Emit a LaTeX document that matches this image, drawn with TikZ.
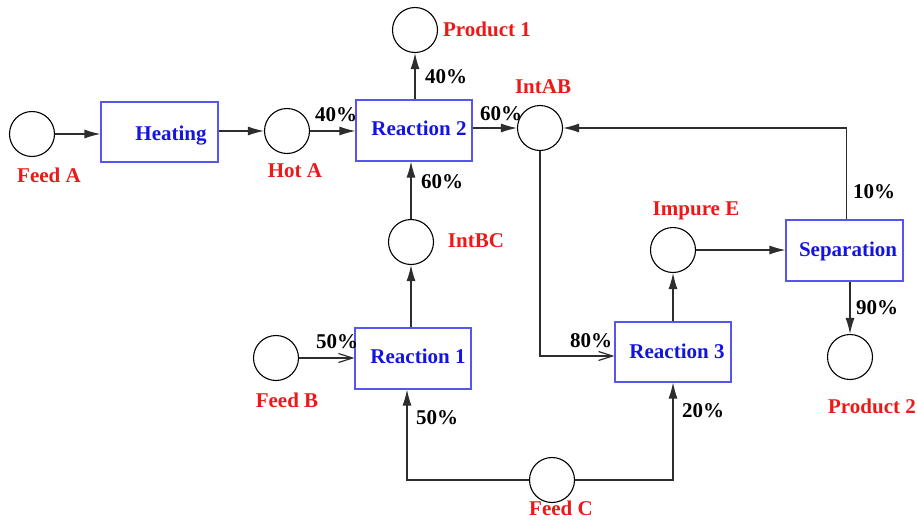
\documentclass[tikz,border=0pt]{standalone}
\usepackage{fontspec}
\setmainfont{Liberation Serif}
\usetikzlibrary{arrows.meta}
\definecolor{lblred}{RGB}{235,25,25}
\definecolor{txtblue}{RGB}{20,20,225}
\definecolor{boxblue}{RGB}{85,85,240}
\definecolor{linegray}{RGB}{45,45,45}
\begin{document}
\begin{tikzpicture}[x=1pt,y=-1pt,
  every node/.style={font=\fontsize{21}{24}\selectfont\bfseries},
  circ/.style={circle,draw=black,line width=1.1pt,minimum size=45pt,inner sep=0},
  blk/.style={draw=boxblue,line width=1.1pt,inner sep=0},
  lbl/.style={text=lblred,anchor=base,inner sep=0},
  btxt/.style={text=txtblue,anchor=base,inner sep=0},
  pct/.style={text=black,anchor=base,inner sep=0},
  flow/.style={draw=linegray,line width=1.2pt,-{Latex[length=16pt,width=9pt]}},
  oflow/.style={draw=linegray,line width=1.2pt,-{Straight Barb[length=14pt,width=9pt]}}]
\useasboundingbox (0,0) rectangle (917,520);
% circles
\node[circ] (feedA) at (32,134) {};
\node[circ] (hotA) at (287,131) {};
\node[circ] (p1) at (415,30) {};
\node[circ] (intAB) at (540,128) {};
\node[circ] (intBC) at (411,242) {};
\node[circ] (feedB) at (276,358) {};
\node[circ] (feedC) at (552,480) {};
\node[circ] (impE) at (673,250) {};
\node[circ] (p2) at (850,357) {};
% boxes
\node[blk,minimum width=117pt,minimum height=60pt] (heat) at (159.5,132) {};
\node[blk,minimum width=116pt,minimum height=61pt] (r2) at (414,130.5) {};
\node[blk,minimum width=116pt,minimum height=61pt] (r1) at (413,358.5) {};
\node[blk,minimum width=116pt,minimum height=60pt] (r3) at (673,352) {};
\node[blk,minimum width=117pt,minimum height=61pt] (sep) at (844.5,250.5) {};
% box texts
\node[btxt] (heatT) at (171,140) {Heating};
\node[btxt] (r2T) at (419,135) {Reaction 2};
\node[btxt] (r1T) at (418,363) {Reaction 1};
\node[btxt] (r3T) at (677,358) {Reaction 3};
\node[btxt] (sepT) at (848,256) {Separation};
% labels
\node[lbl] (feedAl) at (49,182) {Feed A};
\node[lbl] (hotAl) at (295,177) {Hot A};
\node[lbl] (p1l) at (487,36) {Product 1};
\node[lbl] (intABl) at (543,93) {IntAB};
\node[lbl] (intBCl) at (476,247) {IntBC};
\node[lbl] (impEl) at (696,215) {Impure E};
\node[lbl] (feedBl) at (287,407) {Feed B};
\node[lbl] (feedCl) at (561,515) {Feed C};
\node[lbl] (p2l) at (872,413) {Product 2};
% percentages
\node[pct] (pc1) at (336,121) {40\%};
\node[pct] (pc2) at (446,83) {40\%};
\node[pct] (pc3) at (501,120) {60\%};
\node[pct] (pc4) at (442,188) {60\%};
\node[pct] (pc5) at (874,198) {10\%};
\node[pct] (pc6) at (877,314) {90\%};
\node[pct] (pc7) at (337,348) {50\%};
\node[pct] (pc8) at (437,424) {50\%};
\node[pct] (pc9) at (591,347) {80\%};
\node[pct] (pc10) at (703,417) {20\%};
% connectors
\draw[flow] (feedA.east) -- (feedA.east -| heat.west);
\draw[flow] (heat.east |- hotA) -- (hotA.west);
\draw[flow] (hotA.east) -- (hotA.east -| r2.west);
\draw[flow] (p1.south |- r2.north) -- (p1.south);
\draw[flow] (r2.east |- intAB) -- (intAB.west);
\draw[flow] (intBC.north) -- (intBC.north |- r2.south);
\draw[flow] (r1.north -| intBC) -- (intBC.south);
\draw[oflow] (feedB.east) -- (feedB.east -| r1.west);
\draw[flow] (feedC.west) -| ([xshift=-6pt]r1.south);
\draw[flow] (feedC.east) -| (r3.south);
\draw[oflow] (intAB.south) |- ([yshift=-4pt]r3.west);
\draw[flow] (r3.north) -- (impE.south);
\draw[flow] (impE.east) -- (impE.east -| sep.west);
\draw[flow] ([xshift=2pt]sep.north) |- (intAB.east);
\draw[flow] (p2.north |- sep.south) -- (p2.north);
\end{tikzpicture}
\end{document}
